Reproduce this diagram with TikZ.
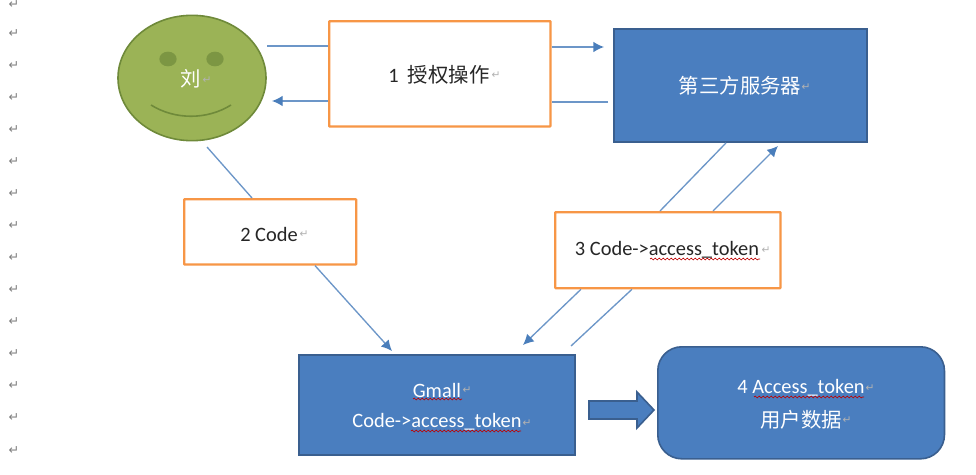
\documentclass[tikz,border=0pt]{standalone}
\usepackage{fontspec}
\setmainfont{Carlito}
\newfontfamily\cjk{Noto Sans CJK SC}
\newfontfamily\dv{DejaVu Sans}
\usetikzlibrary{arrows.meta,shapes.geometric,decorations.pathmorphing,calc}
\definecolor{bluefill}{HTML}{4A7EBF}
\definecolor{blueedge}{HTML}{3A5F8F}
\definecolor{lineblue}{HTML}{6C96C8}
\definecolor{tipblue}{HTML}{4A7EBB}
\definecolor{orangeedge}{HTML}{F79646}
\definecolor{face}{HTML}{9BB356}
\definecolor{faceedge}{HTML}{6F8A3A}
\definecolor{eye}{HTML}{7C9643}
\definecolor{markgrey}{HTML}{7F7F7F}
\tikzset{
 x=0.75pt,y=-0.75pt,
 txt/.style={font=\fontsize{15.3}{18}\selectfont,inner sep=0pt,align=center},
 orangebox/.style={draw=orangeedge,line width=1.7pt,fill=white,anchor=north west,inner sep=0pt,rounded corners=0.5pt},
 bluebox/.style={draw=blueedge,line width=1.2pt,fill=bluefill,anchor=north west,inner sep=0pt},
 conn/.style={draw=lineblue,line width=1pt},
 connarrow/.style={conn,-{Latex[length=8pt,width=8pt,color=tipblue]}},
 squig/.style={draw=red!75!black,line width=0.5pt,decorate,decoration={snake,amplitude=0.7pt,segment length=3pt}},
 retmark/.style={font=\dv\fontsize{9.5}{9.5}\selectfont,text=markgrey,inner sep=0pt},
 inmark/.style={font=\dv\fontsize{8}{8}\selectfont,text=markgrey!60,inner sep=0pt},
}
\begin{document}
\begin{tikzpicture}
\useasboundingbox (0,0) rectangle (976,475);
\fill[white] (0,0) rectangle (976,475);
% margin return marks
\foreach \i [count=\n] in {5,34,66,98,130,162,194,226,258,290,322,354,386,418,451}{
  \node[retmark] (ret\n) at (14,\i) {↵};
}
% nodes
\node[ellipse,draw=faceedge,line width=1.2pt,fill=face,minimum width=111pt,minimum height=94pt,inner sep=0pt] (smile) at (192,78) {};
\node[draw=none,fill=eye,ellipse,minimum width=13pt,minimum height=11pt,inner sep=0pt] (eyeL) at (168,59) {};
\node[draw=none,fill=eye,ellipse,minimum width=13pt,minimum height=11pt,inner sep=0pt] (eyeR) at (215,59) {};
\draw[faceedge,line width=1.2pt] (151,105) .. controls (175,120) and (207,120) .. (231,105);
\node[txt,text=white] (liu) at (191,79) {\cjk 刘};

\node[orangebox,minimum width=166pt,minimum height=79pt] (box1) at (328,20) {};
\node[txt,text=black!85] (t1) at (439,75) {1\ \ {\cjk 授权操作}};
\node[bluebox,minimum width=190pt,minimum height=85pt] (server) at (613,28) {};
\node[txt,text=white] (t2) at (740,86) {\cjk 第三方服务器};
\node[orangebox,minimum width=129pt,minimum height=49pt] (box2) at (183,198) {};
\node[txt,text=black!85] (t3) at (269,234) {2 Code};
\node[orangebox,minimum width=169pt,minimum height=57pt] (box3) at (554,211) {};
\node[txt,text=black!85] (t4) at (667,250) {3 Code->access\_token};
\node[bluebox,minimum width=207pt,minimum height=75pt] (gmall) at (298,354) {};
\node[txt,text=white] (t5) at (437,390) {Gmall};
\node[txt,text=white] (t6) at (437,422) {Code->access\_token};
\node[bluebox,rounded corners=18pt,minimum width=215pt,minimum height=84pt] (access) at (657,346) {};
\node[txt,text=white] (t7) at (801,388) {4 Access\_token};
\node[txt,text=white] (t8) at (801,420) {\cjk 用户数据};
% block arrow
\draw[draw=blueedge,line width=1.2pt,fill=bluefill,line join=miter]
  (589,401) -- (637,401) -- (637,392) -- (654,410) -- (637,428) -- (637,419) -- (589,419) -- cycle;

% connectors
\coordinate (a1) at (267,46);
\coordinate (a2) at (604,47);
\coordinate (a3) at (608,102);
\coordinate (a4) at (272,101);
\coordinate (b1) at (207,147);
\coordinate (b2) at (252,198);
\coordinate (b3) at (315,265);
\coordinate (b4) at (392,351);
\coordinate (c1) at (726,143);
\coordinate (c2) at (660,211);
\coordinate (c3) at (713,211);
\coordinate (c4) at (778,146);
\coordinate (d1) at (581,288);
\coordinate (d2) at (523,345);
\coordinate (d3) at (632,288);
\coordinate (d4) at (571,346);
\draw[conn] (a1) -- (box1.west |- a1);
\draw[connarrow] (box1.east |- a2) -- (a2);
\draw[conn] (a3) -- (box1.east |- a3);
\draw[connarrow] (box1.west |- a4) -- (a4);
\draw[conn] (b1) -- (b2 |- box2.north);
\draw[connarrow] (b3 |- box2.south) -- (b4);
\draw[conn] (c1 |- server.south) -- (c2 |- box3.north);
\draw[connarrow] (c3 |- box3.north) -- (c4);
\draw[connarrow] (d1 |- box3.south) -- (d2);
\draw[conn] (d3 |- box3.south) -- (d4);

% spelling squiggles
\draw[squig] (413,399) -- (462,399);
\draw[squig] (411,431) -- (521,431);
\draw[squig] (650,259) -- (760,259);
\draw[squig] (754,397) -- (864,397);
% paragraph marks inside shapes
\node[inmark] (m1) at (207,80) {↵};
\node[inmark] (m2) at (496,75) {↵};
\node[inmark] (m3) at (806,87) {↵};
\node[inmark] (m4) at (304,234) {↵};
\node[inmark] (m5) at (766,250) {↵};
\node[inmark] (m6) at (467,390) {↵};
\node[inmark] (m7) at (527,423) {↵};
\node[inmark] (m8) at (870,388) {↵};
\node[inmark] (m9) at (847,420) {↵};
\end{tikzpicture}
\end{document}
